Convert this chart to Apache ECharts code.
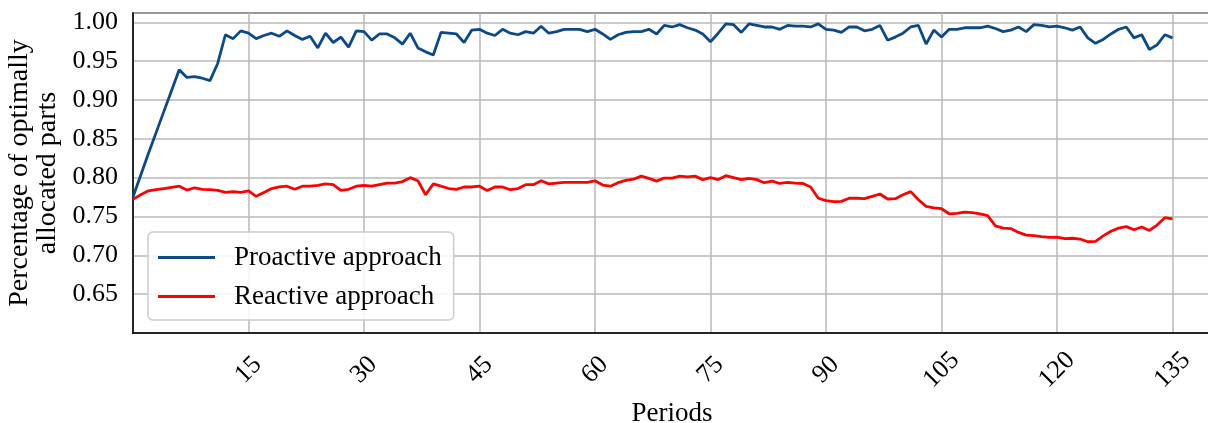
<!DOCTYPE html>
<html>
<head>
<meta charset="utf-8">
<script src="https://cdn.jsdelivr.net/npm/echarts@6/dist/echarts.min.js"></script>
<style>
html,body{margin:0;padding:0;background:#fff;}
#chart{width:1208px;height:423px;}
</style>
</head>
<body>
<div id="chart"></div>
<script>
const seriesNames = ['Proactive approach', 'Reactive approach'];
const proactive = [
0.775,0.803,0.831,0.858,0.885,0.912,0.939,0.929,0.930,0.928,
0.925,0.947,0.984,0.979,0.989,0.986,0.979,0.983,0.986,0.982,
0.989,0.983,0.978,0.982,0.967,0.986,0.974,0.981,0.968,0.989,
0.988,0.977,0.985,0.985,0.980,0.972,0.986,0.967,0.962,0.958,
0.987,0.986,0.985,0.974,0.990,0.991,0.986,0.983,0.991,0.986,
0.984,0.988,0.986,0.995,0.986,0.988,0.991,0.991,0.991,0.988,
0.991,0.985,0.978,0.984,0.987,0.988,0.988,0.991,0.985,0.996,
0.994,0.997,0.993,0.990,0.985,0.975,0.986,0.998,0.997,0.987,
0.998,0.996,0.994,0.994,0.991,0.996,0.995,0.995,0.994,0.998,
0.991,0.990,0.987,0.994,0.994,0.989,0.991,0.996,0.977,0.981,
0.986,0.994,0.996,0.972,0.990,0.981,0.991,0.991,0.993,0.993,
0.993,0.995,0.992,0.988,0.990,0.994,0.988,0.997,0.996,0.994,
0.995,0.993,0.990,0.994,0.980,0.973,0.978,0.985,0.991,0.994,
0.980,0.984,0.965,0.971,0.984,0.980
];
const reactive = [
0.772,0.778,0.783,0.7845,0.786,0.7875,0.789,0.784,0.787,0.785,
0.7845,0.7835,0.781,0.782,0.781,0.783,0.776,0.781,0.786,0.788,
0.789,0.785,0.789,0.789,0.790,0.792,0.791,0.7835,0.785,0.789,
0.790,0.789,0.791,0.793,0.793,0.795,0.800,0.796,0.778,0.792,
0.789,0.786,0.785,0.788,0.788,0.789,0.7835,0.788,0.788,0.7845,
0.786,0.791,0.791,0.796,0.792,0.793,0.794,0.794,0.794,0.794,
0.796,0.7905,0.789,0.7935,0.7965,0.798,0.802,0.799,0.7955,0.7995,
0.7995,0.802,0.801,0.802,0.7975,0.800,0.7975,0.8025,0.800,0.7975,
0.799,0.7975,0.7935,0.7955,0.7925,0.794,0.793,0.7925,0.788,0.7735,
0.7705,0.769,0.7695,0.7735,0.7735,0.773,0.776,0.779,0.7725,0.773,
0.778,0.782,0.7715,0.763,0.761,0.760,0.7535,0.754,0.7555,0.755,
0.7535,0.751,0.738,0.735,0.7345,0.7295,0.726,0.7255,0.724,0.723,
0.7235,0.7215,0.722,0.721,0.7175,0.718,0.725,0.731,0.735,0.737,
0.733,0.7365,0.732,0.739,0.7485,0.747
];
const periods = proactive.map((_, i) => i);
const xTickLabels = ['15','30','45','60','75','90','105','120','135'];
const yTickLabels = ['0.65','0.70','0.75','0.80','0.85','0.90','0.95','1.00'];

const FONT = 'Liberation Serif';
const chart = echarts.init(document.getElementById('chart'), null, {renderer: 'canvas'});
const pairs = arr => periods.map((p, i) => [p, arr[i]]);

chart.setOption({
  animation: false,
  backgroundColor: '#ffffff',
  grid: {left: 133, top: 13, right: -3, height: 320, outerBoundsMode: 'none', containLabel: false,
         show: true, borderColor: '#000', borderWidth: 1.5, backgroundColor: 'transparent'},
  xAxis: {
    type: 'value', min: 0, max: 140, interval: 15,
    name: 'Periods', nameLocation: 'middle', nameGap: 64,
    nameTextStyle: {fontFamily: FONT, fontSize: 27, color: '#000'},
    axisLine: {show: true, onZero: false, lineStyle: {color: '#000', width: 1.5}},
    axisTick: {show: false},
    splitLine: {show: true, lineStyle: {color: '#b8b8b8', width: 1.5}},
    axisLabel: {
      rotate: 45, align: 'center', verticalAlign: 'middle', margin: 37,
      fontFamily: FONT, fontSize: 26, color: '#000',
      showMinLabel: false, showMaxLabel: false,
      formatter: v => { const s = String(Math.round(v)); return xTickLabels.includes(s) ? s : ''; }
    }
  },
  yAxis: {
    type: 'value', min: 0.6, max: 1.012, interval: 0.05,
    name: 'Percentage of optimally\nallocated parts', nameLocation: 'middle', nameGap: 66, nameRotate: 90,
    nameTextStyle: {fontFamily: FONT, fontSize: 28, color: '#000', lineHeight: 28},
    axisLine: {show: true, onZero: false, lineStyle: {color: '#000', width: 1.5}},
    axisTick: {show: false},
    splitLine: {show: true, lineStyle: {color: '#b8b8b8', width: 1.5}},
    axisLabel: {
      margin: 15, fontFamily: FONT, fontSize: 26, color: '#000',
      showMinLabel: false, showMaxLabel: false,
      formatter: v => { const s = v.toFixed(2); return yTickLabels.includes(s) ? s : ''; }
    }
  },
  legend: {
    orient: 'vertical', left: 148, top: 232,
    padding: [12, 12, 10, 10], itemGap: 12, itemWidth: 57, itemHeight: 3,
    icon: 'rect',
    backgroundColor: 'rgba(255,255,255,0.85)', borderColor: '#cccccc', borderWidth: 1.5, borderRadius: 5,
    textStyle: {fontFamily: FONT, fontSize: 27, color: '#000', padding: [0, 0, 0, 14]},
    data: seriesNames
  },
  series: [
    {name: seriesNames[0], type: 'line', data: pairs(proactive), symbol: 'none', lineStyle: {color: '#0b4a87', width: 2.8}, itemStyle: {color: '#0b4a87'}, z: 3},
    {name: seriesNames[1], type: 'line', data: pairs(reactive), symbol: 'none', lineStyle: {color: '#ff0000', width: 2.8}, itemStyle: {color: '#ff0000'}, z: 2}
  ]
});
</script>
</body>
</html>
